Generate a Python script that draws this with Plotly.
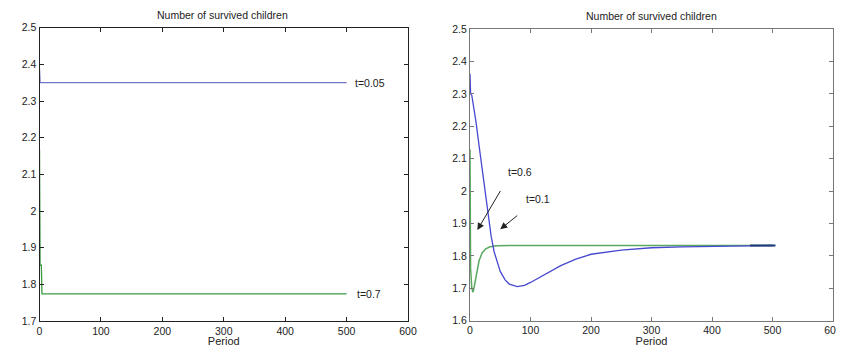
import plotly.graph_objects as go

# ---- data ----
left_blue_period = [0, 1, 500]
left_blue_value = [2.388, 2.350, 2.350]
left_green_period = [0, 1, 3, 4, 500]
left_green_value = [2.168, 1.852, 1.852, 1.774, 1.774]

right_blue_period = [0, 1, 3, 6, 10, 15, 20, 25, 30, 35, 40, 45, 50, 58, 65, 78, 90, 100, 125, 150, 175, 200, 250, 300, 350, 400, 450, 500]
right_blue_value = [2.362, 2.300, 2.295, 2.262, 2.212, 2.140, 2.070, 1.995, 1.915, 1.860, 1.812, 1.778, 1.752, 1.726, 1.713, 1.705, 1.709, 1.718, 1.745, 1.770, 1.790, 1.805, 1.818, 1.825, 1.828, 1.830, 1.831, 1.832]
right_green_period = [0, 1, 3, 5, 7, 11, 15, 20, 26, 33, 45, 70, 500]
right_green_value = [2.128, 1.760, 1.700, 1.688, 1.705, 1.748, 1.785, 1.809, 1.822, 1.828, 1.831, 1.832, 1.832]
right_end_period = [463, 505]
right_end_value = [1.832, 1.832]

x_ticks = [0, 100, 200, 300, 400, 500, 600]
left_y_ticks = [1.7, 1.8, 1.9, 2.0, 2.1, 2.2, 2.3, 2.4, 2.5]
left_y_text = ["1.7", "1.8", "1.9", "2", "2.1", "2.2", "2.3", "2.4", "2.5"]
right_y_ticks = [1.6, 1.7, 1.8, 1.9, 2.0, 2.1, 2.2, 2.3, 2.4, 2.5]
right_y_text = ["1.6", "1.7", "1.8", "1.9", "2", "2.1", "2.2", "2.3", "2.4", "2.5"]

title_text = "Number of survived children"
xlabel_text = "Period"

FONT = "Liberation Sans, Arial, sans-serif"
OFF = 8  # page body margin in the browser
W, H = 844 - OFF, 355 - 2 * OFF

fig = go.Figure()
fig.add_trace(go.Scatter(x=left_blue_period, y=left_blue_value, mode="lines",
                         line=dict(color="#7075c6", width=1.3), xaxis="x", yaxis="y", showlegend=False))
fig.add_trace(go.Scatter(x=left_green_period, y=left_green_value, mode="lines",
                         line=dict(color="#3a9a42", width=1.3), xaxis="x", yaxis="y", showlegend=False))
fig.add_trace(go.Scatter(x=right_green_period, y=right_green_value, mode="lines",
                         line=dict(color="#5aa860", width=1.5), xaxis="x2", yaxis="y2", showlegend=False))
fig.add_trace(go.Scatter(x=right_blue_period, y=right_blue_value, mode="lines",
                         line=dict(color="#4848d0", width=1.3), xaxis="x2", yaxis="y2", showlegend=False))
fig.add_trace(go.Scatter(x=right_end_period, y=right_end_value, mode="lines",
                         line=dict(color="#1f3a78", width=2.2), xaxis="x2", yaxis="y2", showlegend=False))

def px_x(p):
    return (p - OFF) / W

def px_y(p):
    return (H - (p - OFF)) / H

axis_common = dict(ticks="inside", ticklen=4, showline=True, mirror="ticks", showgrid=False,
                   zeroline=False, automargin=False, ticklabeloverflow="allow",
                   tickfont=dict(family=FONT, size=10.5, color="#222"))

fig.update_layout(
    width=W, height=H,
    margin=dict(l=0, r=0, t=0, b=0, autoexpand=False),
    paper_bgcolor="white", plot_bgcolor="white",
    font=dict(family=FONT, size=10.5, color="#222"),
    xaxis=dict(domain=[px_x(39.5), px_x(408)], range=[0, 600], tickvals=x_ticks,
               linecolor="#222", tickcolor="#222", anchor="y",
               title=dict(text=xlabel_text, standoff=1, font=dict(family=FONT, size=11)), **axis_common),
    yaxis=dict(domain=[px_y(321), px_y(27.7)], range=[1.7, 2.5], tickvals=left_y_ticks, ticktext=left_y_text,
               linecolor="#222", tickcolor="#222", anchor="x", **axis_common),
    xaxis2=dict(domain=[px_x(470), px_x(833)], range=[0, 600], tickvals=x_ticks,
                linecolor="#777", tickcolor="#777", anchor="y2",
                title=dict(text=xlabel_text, standoff=1, font=dict(family=FONT, size=11)), **axis_common),
    yaxis2=dict(domain=[px_y(320.7), px_y(29)], range=[1.6, 2.5], tickvals=right_y_ticks, ticktext=right_y_text,
                linecolor="#777", tickcolor="#777", anchor="x2", **axis_common),
)

ann = []
ann.append(dict(text=title_text, x=px_x(222), y=px_y(15), xref="paper", yref="paper",
                showarrow=False, xanchor="center", yanchor="middle", font=dict(family=FONT, size=10.5)))
ann.append(dict(text=title_text, x=px_x(651), y=px_y(16), xref="paper", yref="paper",
                showarrow=False, xanchor="center", yanchor="middle", font=dict(family=FONT, size=10.5)))
ann.append(dict(text="t=0.05", x=510, y=2.35, xref="x", yref="y", showarrow=False,
                xanchor="left", yanchor="middle", font=dict(family=FONT, size=10.5)))
ann.append(dict(text="t=0.7", x=513, y=1.774, xref="x", yref="y", showarrow=False,
                xanchor="left", yanchor="middle", font=dict(family=FONT, size=10.5)))
ann.append(dict(text="t=0.6", x=82.5, y=2.06, xref="x2", yref="y2", showarrow=False,
                xanchor="center", yanchor="middle", font=dict(family=FONT, size=10.5)))
ann.append(dict(text="t=0.1", x=112.8, y=1.974, xref="x2", yref="y2", showarrow=False,
                xanchor="center", yanchor="middle", font=dict(family=FONT, size=10.5)))
ann.append(dict(text="", x=12.2, y=1.880, ax=51.7, ay=2.005, xref="x2", yref="y2", axref="x2", ayref="y2",
                showarrow=True, arrowhead=2, arrowsize=1.4, arrowwidth=1, arrowcolor="#222"))
ann.append(dict(text="", x=50, y=1.882, ax=80.5, ay=1.928, xref="x2", yref="y2", axref="x2", ayref="y2",
                showarrow=True, arrowhead=2, arrowsize=1.4, arrowwidth=1, arrowcolor="#222"))
fig.update_layout(annotations=ann)

fig.write_html("out.html")
